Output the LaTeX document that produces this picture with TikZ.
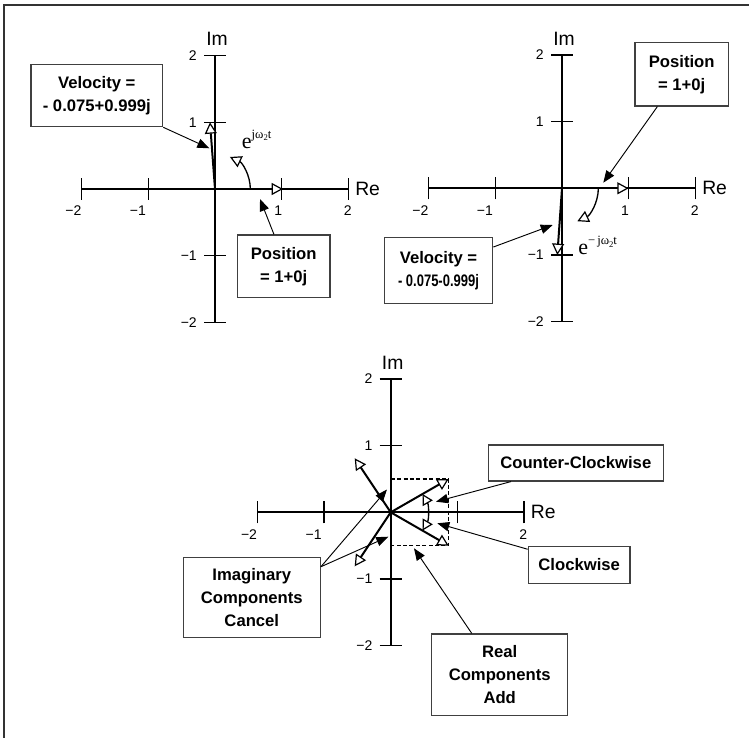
\documentclass[tikz,border=0pt]{standalone}
\usepackage{graphicx}
\usepackage{fontspec}
\setmainfont{Liberation Sans}
\newfontfamily\serifexp{Liberation Serif}
\usetikzlibrary{arrows.meta}
\newcommand\expfmt[1]{{\serifexp\fontsize{16.5}{16.5}\selectfont e}\raisebox{7.5pt}{\serifexp\fontsize{9.5}{9.5}\selectfont #1}}
\newcommand\subtwo{\raisebox{-1.6pt}{\fontsize{6.5}{6.5}\selectfont 2}}
\newcommand\cplxaxes[1]{%
  \draw[axisline] (-2,0) -- (2,0);
  \draw[axisline] (0,-2) -- (0,2);
  \foreach \t in {-2,-1,1,2}{%
    \draw[tickline] (\t,-0.165) -- (\t,0.165);
    \draw[tickline] (-0.165,\t) -- (0.165,\t);
  }
  \node[lbl] (#1xm2) at (-2.125,-0.33) {−2};
  \node[lbl] (#1xm1) at (-1.157,-0.33) {−1};
  \node[lbl] (#1xp2) at (1.99,-0.33) {2};
  \node[lbl,anchor=east] (#1yp2) at (-0.27,2) {2};
  \node[lbl,anchor=east] (#1yp1) at (-0.27,1) {1};
  \node[lbl,anchor=east] (#1ym1) at (-0.27,-1) {−1};
  \node[lbl,anchor=east] (#1ym2) at (-0.27,-2) {−2};
  \node[axlbl] (#1im) at (0.03,2.245) {Im};
  \node[axlbl,anchor=west] (#1re) at (2.1,0) {Re};
}
\begin{document}
\begin{tikzpicture}[x=0.75pt,y=-0.75pt,
  axisline/.style={line width=1.4pt},
  tickline/.style={line width=1.2pt},
  vecarrow/.style={line width=1.5pt,-{Triangle[fill=white,length=8.5pt,width=9pt,line width=0.9pt]}},
  rotarrow/.style={line width=1pt,-{Triangle[fill=white,length=8.5pt,width=9pt,line width=0.9pt]}},
  rotboth/.style={line width=1pt,{Triangle[fill=white,length=8pt,width=8.5pt,line width=0.9pt]}-{Triangle[fill=white,length=8pt,width=8.5pt,line width=0.9pt]}},
  ptr/.style={line width=0.7pt,-{Triangle[length=9pt,width=7pt]}},
  box/.style={draw=black!75,line width=0.9pt,fill=white,align=center,inner sep=0pt,font=\fontsize{12.5}{17.25}\selectfont\bfseries},
  lbl/.style={inner sep=0pt,font=\fontsize{10.5}{12}\selectfont},
  axlbl/.style={inner sep=0pt,font=\fontsize{14.5}{16}\selectfont},
  dashbox/.style={line width=0.9pt,dash pattern=on 3pt off 1.8pt}
]
\useasboundingbox (0,0) rectangle (749,738);
\draw[line width=1.2pt,black!80] (4,738) -- (4,5) -- (749,5);

% ---------- top-left ----------
\begin{scope}[shift={(215,189)},x=50pt,y=50pt]
  \cplxaxes{a}
  \node[lbl] (axp1) at (0.95,-0.33) {1};
  \coordinate (aO) at (0,0);
  \coordinate (aPos) at (1.02,0);
  \coordinate (aVel) at (-0.075,1.0);
  \draw[vecarrow] (aO) -- (aPos);
  \draw[vecarrow] (aO) -- (aVel);
  \draw[rotarrow] (0.53,0) arc[start angle=0,end angle=65,radius=0.53];
  \node[anchor=base west,inner sep=0pt] (aExp) at (0.40,0.61) {\expfmt{jω\subtwo t}};
\end{scope}

% ---------- top-right ----------
\begin{scope}[shift={(562,188.3)},x=50pt,y=50pt]
  \cplxaxes{b}
  \node[lbl] (bxp1) at (0.945,-0.33) {1};
  \coordinate (bO) at (0,0);
  \coordinate (bPos) at (1.0,0);
  \coordinate (bVel) at (-0.07,-1.0);
  \draw[vecarrow] (bO) -- (bPos);
  \draw[vecarrow] (bO) -- (bVel);
  \draw[rotarrow] (0.545,0) arc[start angle=0,end angle=-65,radius=0.545];
  \node[anchor=base west,inner sep=0pt] (bExp) at (0.24,-1.0) {\expfmt{−\,jω\subtwo t}};
\end{scope}

% ---------- bottom ----------
\begin{scope}[shift={(390.7,512.3)},x=50pt,y=50pt]
  \cplxaxes{c}
  \coordinate (cO) at (0,0);
  \coordinate (cCCW) at (0.87,0.5);
  \coordinate (cCW) at (0.87,-0.5);
  \coordinate (cIu) at (-0.54,0.81);
  \coordinate (cId) at (-0.54,-0.81);
  \draw[dashbox] (0,0.5) -- (0.87,0.5) -- (0.87,-0.5) -- (0,-0.5);
  \draw[vecarrow] (cO) -- (cCCW);
  \draw[vecarrow] (cO) -- (cCW);
  \draw[vecarrow] (cO) -- (cIu);
  \draw[vecarrow] (cO) -- (cId);
  \draw[rotboth] (-30:0.55) arc[start angle=-30,end angle=30,radius=0.55];
\end{scope}

% ---------- boxes ----------
\node[box,minimum width=98.8pt,minimum height=46.8pt] (velTL) at (96.8,95.5) {Velocity =\\- 0.075+0.999j};
\node[box,minimum width=69.5pt,minimum height=47pt] (posTL) at (283.7,266.3) {Position\\= 1+0j};
\node[box,minimum width=70pt,minimum height=47.5pt] (posTR) at (681.7,74.3) {Position\\= 1+0j};
\node[box,minimum width=81.3pt,minimum height=49.5pt] (velTR) at (438.5,270.3) {Velocity =\\\scalebox{0.78}[1]{- 0.075-0.999j}};
\node[box,minimum width=131.3pt,minimum height=27pt] (ccw) at (575.8,463) {Counter-Clockwise};
\node[box,minimum width=76.3pt,minimum height=27.5pt] (cw) at (579.2,565) {Clockwise};
\node[box,minimum width=102.8pt,minimum height=60.3pt] (imag) at (251.8,597.5) {Imaginary\\Components\\Cancel};
\node[box,minimum width=102pt,minimum height=61.3pt] (real) at (499.7,674.8) {Real\\Components\\Add};

% ---------- pointer targets ----------
\coordinate (tVelTL) at (209.3,148.3);
\coordinate (tPosTL) at (260,199);
\coordinate (tPosTR) at (603.3,182.7);
\coordinate (tVelTR) at (552.7,225);
\coordinate (tImA) at (387,489.5);
\coordinate (tImB) at (388.3,536.7);
\coordinate (tCCW) at (436,501.7);
\coordinate (tCW) at (437.3,523.3);
\coordinate (tReal) at (414,548.3);

\draw[ptr] (velTL.south east) -- (tVelTL);
\draw[ptr] (posTL.107) -- (tPosTL);
\draw[ptr] (posTR.233.6) -- (tPosTR);
\draw[ptr] (velTR.23.5) -- (tVelTR);
\draw[ptr] (imag.24) -- (tImA);
\draw[ptr] (imag.24) -- (tImB);
\draw[ptr] (ccw.196) -- (tCCW);
\draw[ptr] (cw.163) -- (tCW);
\draw[ptr] (real.124) -- (tReal);
\end{tikzpicture}
\end{document}
